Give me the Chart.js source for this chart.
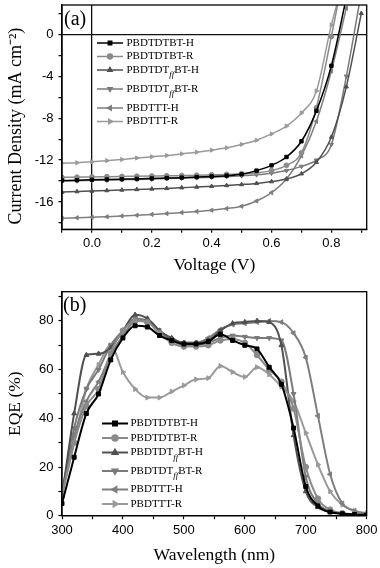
<!DOCTYPE html>
<html><head><meta charset="utf-8">
<script src="https://cdn.jsdelivr.net/npm/chart.js"></script>
<style>
html,body{margin:0;padding:0;background:#fff;overflow:hidden;}
#wa{position:absolute;left:0;top:0;width:380px;height:284px;}
#wb{position:absolute;left:0;top:284px;width:380px;height:284px;}
</style></head><body>
<div id="wa"><canvas id="ca" width="380" height="284"></canvas></div>
<div id="wb"><canvas id="cb" width="380" height="284"></canvas></div>
<script>
// ---------- DATA ----------
const seriesNames = ['PBDTDTBT-H','PBDTDTBT-R','PBDTDT_{ff}BT-H','PBDTDT_{ff}BT-R','PBDTTT-H','PBDTTT-R'];

// (a) J-V curves
const voltage = [-0.1,-0.05,0,0.05,0.1,0.15,0.2,0.25,0.3,0.35,0.4,0.45,0.5,0.55,0.6,0.65,0.7,0.75,0.8,0.85,0.9];
const jvDTBT_H   = [-13.95,-13.92,-13.88,-13.85,-13.82,-13.79,-13.75,-13.71,-13.67,-13.62,-13.56,-13.48,-13.35,-13.0,-12.5,-11.7,-10.2,-7.3,-3.0,3.5,null];
const jvDTBT_R   = [-13.65,-13.63,-13.6,-13.58,-13.56,-13.54,-13.52,-13.5,-13.47,-13.44,-13.4,-13.36,-13.3,-13.2,-13.0,-12.5,-11.3,-7.0,-0.2,7.0,null];
const jvDTffBT_H = [-15.05,-15.0,-14.95,-14.9,-14.85,-14.8,-14.75,-14.7,-14.63,-14.57,-14.5,-14.42,-14.33,-14.22,-14.05,-13.8,-13.3,-12.2,-9.8,-5.0,2.0];
const jvDTffBT_R = [-14.0,-13.97,-13.93,-13.9,-13.87,-13.84,-13.8,-13.76,-13.72,-13.68,-13.63,-13.57,-13.5,-13.4,-13.25,-13.0,-12.6,-12.0,-10.5,-4.0,4.0];
const jvTT_H     = [-17.55,-17.5,-17.45,-17.4,-17.33,-17.26,-17.18,-17.1,-17.0,-16.9,-16.78,-16.62,-16.4,-15.9,-15.1,-13.8,-11.6,-8.3,-3.5,2.5,null];
const jvTT_R     = [-12.3,-12.25,-12.16,-12.05,-11.94,-11.8,-11.68,-11.56,-11.4,-11.24,-11.05,-10.83,-10.5,-10.1,-9.5,-8.75,-7.5,-5.4,0.9,6.0,null];
const vMajorTicks = [0,0.2,0.4,0.6,0.8];
const vMinorTicks = [-0.1,0.1,0.3,0.5,0.7,0.9];
const jMajorTicks = [-16,-12,-8,-4,0];
const jMinorTicks = [-18,-14,-10,-6,-2,2];

// (b) EQE spectra
const wavelength = [300,320,340,360,380,400,420,440,460,480,500,520,540,560,580,600,620,640,660,680,700,720,740,760,780,800];
const eqeDTBT_H   = [5,24,42,50,64,73,78,77.5,74,72,70.5,70.5,71.5,74.5,72,70,68.5,61,54,36,12,4,1.5,0.8,0.5,0.3];
const eqeDTBT_R   = [9,30,45,52,67,76,80,79.5,75,71,69.5,69.5,70,72,72.5,71,66,60,55,44,20,7,2.5,1,0.5,0.3];
const eqeDTffBT_H = [8,42,66,66.5,69,76,82.5,81,76,73,71,71,72,76,79,79.5,80,79.5,70,33,10,3.5,1.5,0.8,0.5,0.3];
const eqeDTffBT_R = [9,36,52,60,70,76,81,80,75,72,70,70,71,73,74,73.5,73,73,72,50,16,5,2,1,0.5,0.3];
const eqeTT_H     = [10,33,47,55,66,74,80,80.5,76,72.5,71,71,73,76.5,78.5,79,79.5,80,79.5,75,65,41,17,5,2,0.8];
const eqeTT_R     = [8,30,52,62,70,59,52,48.5,48.5,51,53.5,56,56.5,61.5,59,57,61,58,53,47,34,21,10,4.5,2,1];
const wlMajorTicks = [300,400,500,600,700,800];
const wlMinorTicks = [350,450,550,650,750];
const eqeMajorTicks = [0,20,40,60,80];
const eqeMinorTicks = [10,30,50,70,90];

// ---------- STYLE ----------
const styleA = [
  {c:'#000000', p:'rect', r:0},
  {c:'#8a8a8a', p:'circle', r:0},
  {c:'#505050', p:'triangle', r:0},
  {c:'#7a7a7a', p:'triangle', r:180},
  {c:'#7e7e7e', p:'triangle', r:-90},
  {c:'#9a9a9a', p:'triangle', r:90}
];
const jvSeries = [jvDTBT_H,jvDTBT_R,jvDTffBT_H,jvDTffBT_R,jvTT_H,jvTT_R];
const eqeSeries = [eqeDTBT_H,eqeDTBT_R,eqeDTffBT_H,eqeDTffBT_R,eqeTT_H,eqeTT_R];

const SERIF = '"Liberation Serif","Times New Roman",serif';
const SANS = '"Liberation Sans",Arial,sans-serif';

function makeDatasets(xs, ys, lw, pr) {
  return ys.map((arr, i) => ({
    label: seriesNames[i],
    data: xs.map((x, k) => ({x: x, y: arr[k]})),
    borderColor: styleA[i].c,
    backgroundColor: styleA[i].c,
    pointBackgroundColor: styleA[i].c,
    pointBorderColor: styleA[i].c,
    pointStyle: styleA[i].p,
    pointRotation: styleA[i].r,
    pointRadius: pr,
    pointBorderWidth: 1,
    borderWidth: lw,
    cubicInterpolationMode: 'monotone',
    spanGaps: false,
    fill: false
  }));
}

function drawRich(ctx, text, x, y, size) {
  const parts = text.split(/(_\{[^}]*\})/).filter(Boolean);
  let cx = x;
  ctx.textAlign = 'left';
  ctx.textBaseline = 'middle';
  for (const p of parts) {
    if (p.startsWith('_{')) {
      const s = p.slice(2, -1);
      ctx.font = 'italic ' + (size * 0.8) + 'px ' + SERIF;
      ctx.fillText(s, cx, y + size * 0.45);
      cx += ctx.measureText(s).width;
    } else {
      ctx.font = size + 'px ' + SERIF;
      ctx.fillText(p, cx, y);
      cx += ctx.measureText(p).width;
    }
  }
}

const framePlugin = {
  id: 'frame',
  afterDatasetsDraw(chart) {
    const {ctx, chartArea: a} = chart;
    ctx.save();
    ctx.strokeStyle = '#000';
    ctx.lineWidth = 1.3;
    ctx.strokeRect(a.left, a.top, a.right - a.left, a.bottom - a.top);
    ctx.restore();
  }
};

const legendPlugin = {
  id: 'customLegend',
  afterDraw(chart, args, o) {
    const ctx = chart.ctx;
    ctx.save();
    let y = o.y;
    chart.data.datasets.forEach((ds) => {
      ctx.strokeStyle = ds.borderColor;
      ctx.lineWidth = o.lw;
      ctx.beginPath();
      ctx.moveTo(o.x0, y);
      ctx.lineTo(o.x1, y);
      ctx.stroke();
      ctx.fillStyle = ds.borderColor;
      Chart.helpers.drawPoint(ctx, {pointStyle: ds.pointStyle, rotation: ds.pointRotation, radius: o.pr, borderWidth: 1}, (o.x0 + o.x1) / 2, y);
      ctx.fillStyle = '#000';
      drawRich(ctx, ds.label, o.tx, y, o.fs);
      y += o.step + (ds.label.indexOf('_{') >= 0 ? o.extra : 0);
    });
    ctx.font = '20px ' + SERIF;
    ctx.fillStyle = '#000';
    ctx.textAlign = 'left';
    ctx.textBaseline = 'alphabetic';
    ctx.fillText(o.panel, o.px, o.py);
    ctx.restore();
  }
};

function zeroPad(s) { s.paddingTop = 0; s.paddingBottom = 0; s.paddingLeft = 0; s.paddingRight = 0; }

function axisCommon(extra) {
  return Object.assign({
    type: 'linear',
    border: {display: true, color: '#000', width: 1.3},
    grid: {drawOnChartArea: false, tickLength: 3.5, tickColor: '#000', tickWidth: 1.2, color: 'rgba(0,0,0,0)'},
  }, extra);
}

function tickBuilder(major, minor) {
  return (s) => { s.ticks = major.concat(minor).sort((a, b) => a - b).map(v => ({value: v})); };
}
function labeler(major, digits) {
  return (v) => major.some(m => Math.abs(m - v) < 1e-9) ? (digits ? v.toFixed(digits) : String(v)) : '';
}

// ---------- CHART (a) ----------
new Chart(document.getElementById('ca'), {
  type: 'line',
  data: {datasets: makeDatasets(voltage, jvSeries, 1.5, 2.4)},
  plugins: [framePlugin, legendPlugin],
  options: {
    responsive: false, animation: false, devicePixelRatio: 1,
    layout: {padding: {left: 0, right: 13.3, top: 3.3, bottom: 0}},
    plugins: {
      legend: {display: false}, tooltip: {enabled: false},
      customLegend: {x0: 97, x1: 123, tx: 126.5, y: 43, step: 13.5, extra: 5.5, fs: 11, lw: 1.5, pr: 2.4, panel: '(a)', px: 64, py: 25}
    },
    scales: {
      x: axisCommon({
        min: -0.1, max: 0.918,
        afterBuildTicks: tickBuilder(vMajorTicks, vMinorTicks),
        afterFit: (s) => { s.height = 54.7; zeroPad(s); },
        ticks: {autoSkip: false, maxRotation: 0, padding: 3, color: '#000', font: {family: SANS, size: 13}, callback: labeler(vMajorTicks, 1)},
        grid: {drawOnChartArea: true, tickLength: 3.5, tickColor: '#000', tickWidth: 1.2, lineWidth: 1.3,
               color: (c) => (c.tick && Math.abs(c.tick.value) < 1e-9) ? '#111' : 'rgba(0,0,0,0)'},
        title: {display: true, text: 'Voltage (V)', color: '#000', font: {family: SERIF, size: 17.5}, padding: {top: 0, bottom: 8}}
      }),
      y: axisCommon({
        min: -18.6, max: 2.8,
        afterBuildTicks: tickBuilder(jMajorTicks, jMinorTicks),
        afterFit: (s) => { s.width = 62; zeroPad(s); },
        ticks: {autoSkip: false, padding: 5, color: '#000', font: {family: SANS, size: 13}, callback: labeler(jMajorTicks, 0)},
        grid: {drawOnChartArea: true, tickLength: 3.5, tickColor: '#000', tickWidth: 1.2, lineWidth: 1.3,
               color: (c) => (c.tick && Math.abs(c.tick.value) < 1e-9) ? '#111' : 'rgba(0,0,0,0)'},
        title: {display: true, text: 'Current Density (mA cm\u207B\u00B2)    ', color: '#000', font: {family: SERIF, size: 18}, padding: {top: 5.2, bottom: 0}}
      })
    }
  }
});

// ---------- CHART (b) ----------
new Chart(document.getElementById('cb'), {
  type: 'line',
  data: {datasets: makeDatasets(wavelength, eqeSeries, 2, 2.8)},
  plugins: [framePlugin, legendPlugin],
  options: {
    responsive: false, animation: false, devicePixelRatio: 1,
    layout: {padding: {left: 0, right: 13.3, top: 7.7, bottom: 0}},
    plugins: {
      legend: {display: false}, tooltip: {enabled: false},
      customLegend: {x0: 102, x1: 128, tx: 130.5, y: 139.5, step: 14.5, extra: 4, fs: 11, lw: 2, pr: 2.8, panel: '(b)', px: 63, py: 27}
    },
    scales: {
      x: axisCommon({
        min: 300, max: 800,
        afterBuildTicks: tickBuilder(wlMajorTicks, wlMinorTicks),
        afterFit: (s) => { s.height = 52.3; zeroPad(s); },
        ticks: {autoSkip: false, maxRotation: 0, padding: 3, color: '#000', font: {family: SANS, size: 13}, callback: labeler(wlMajorTicks, 0)},
        title: {display: true, text: 'Wavelength (nm)', color: '#000', font: {family: SERIF, size: 17.5}, padding: {top: 0, bottom: 2.5}}
      }),
      y: axisCommon({
        min: 0, max: 92,
        afterBuildTicks: tickBuilder(eqeMajorTicks, eqeMinorTicks),
        afterFit: (s) => { s.width = 62; zeroPad(s); },
        ticks: {autoSkip: false, padding: 5, color: '#000', font: {family: SANS, size: 13}, callback: labeler(eqeMajorTicks, 0)},
        title: {display: true, text: 'EQE (%)', color: '#000', font: {family: SERIF, size: 17.5}, padding: {top: 5.2, bottom: 0}}
      })
    }
  }
});
</script>
</body></html>
